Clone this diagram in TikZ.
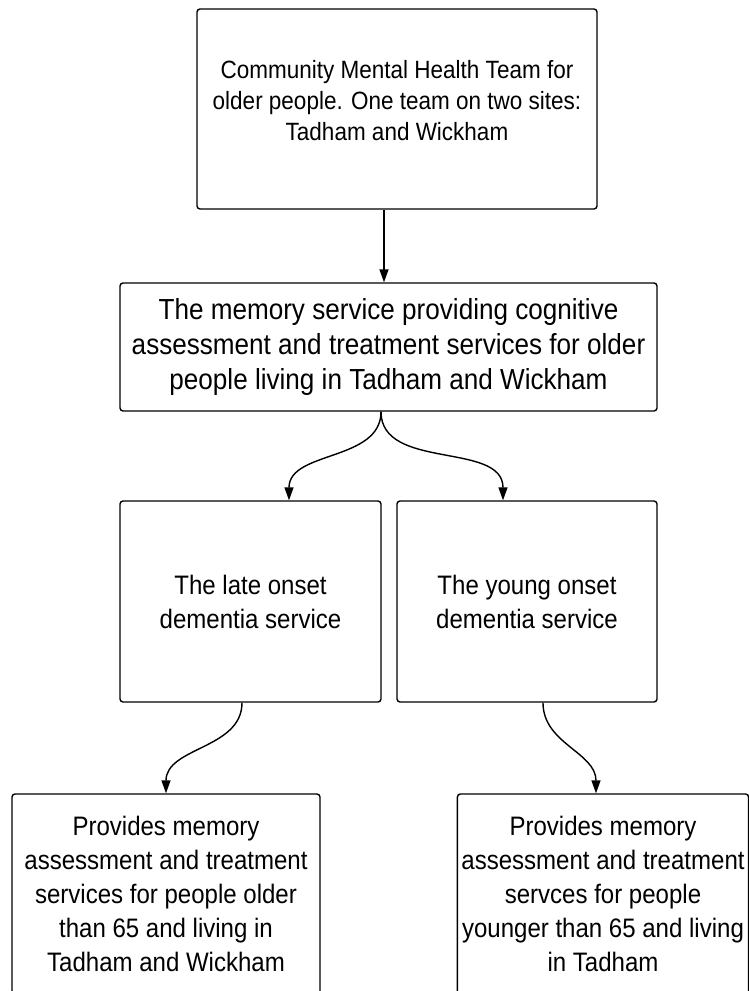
\documentclass[tikz,border=0pt]{standalone}
\usepackage{fontspec}
\setmainfont[FakeStretch=0.9]{Liberation Sans}
\usetikzlibrary{arrows.meta,positioning}

\begin{document}
\begin{tikzpicture}
[
	              x = 1pt,
	              y = -1pt,
	           ->, >= {Triangle[length=13pt,width=9pt]},
	     line width = 1.4pt,
	  servbox/.style = { draw=black, rounded corners=3pt, align=center, inner sep=4pt },
	 topfont/.style = { font=\fontsize{25}{31}\selectfont },
	 midfont/.style = { font=\fontsize{29}{35}\selectfont },
	 lowfont/.style = { font=\fontsize{26.7}{34}\selectfont }
]
	\useasboundingbox (0,0) rectangle (749,991);
	\clip (0,0) rectangle (749,991);

	\node (cmht) at (397,109) [servbox, topfont, minimum width=400pt, minimum height=200pt]
		{Community Mental Health Team for\\older people. One team on two sites:\\Tadham and Wickham\\[-14pt]\mbox{}};
	\node (memory) at (388.5,347) [servbox, midfont, minimum width=537pt, minimum height=128pt]
		{The memory service providing cognitive\\assessment and treatment services for older\\people living in Tadham and Wickham};
	\node (late) at (250.5,601.5) [servbox, lowfont, minimum width=261pt, minimum height=201pt]
		{The late onset\\dementia service};
	\node (young) at (527,601.5) [servbox, lowfont, minimum width=260pt, minimum height=201pt]
		{The young onset\\dementia service};
	\node (older) at (166,894) [servbox, lowfont, minimum width=308pt, minimum height=200pt]
		{Provides memory\\assessment and treatment\\services for people older\\than 65 and living in\\Tadham and Wickham};
	\node (younger) at (603,894) [servbox, lowfont, minimum width=290pt, minimum height=200pt]
		{Provides memory\\assessment and treatment\\servces for people\\younger than 65 and living\\in Tadham};

	\coordinate (stem)  at (384,0);
	\coordinate (fork)  at (381,0);
	\coordinate (lateIn)  at (289,0);
	\coordinate (youngIn) at (503,0);
	\coordinate (lateOut) at (242,0);
	\coordinate (youngOut) at (543,0);
	\coordinate (olderIn) at (166,0);
	\coordinate (youngerIn) at (596,0);

	\draw (cmht.south -| stem) -- (memory.north -| stem);
	\draw (memory.south -| fork) to [out=-90, in=90] (late.north -| lateIn);
	\draw (memory.south -| fork) to [out=-90, in=90] (young.north -| youngIn);
	\draw (late.south -| lateOut) to [out=-90, in=90] (older.north -| olderIn);
	\draw (young.south -| youngOut) to [out=-90, in=90] (younger.north -| youngerIn);

\end{tikzpicture}
\end{document}
